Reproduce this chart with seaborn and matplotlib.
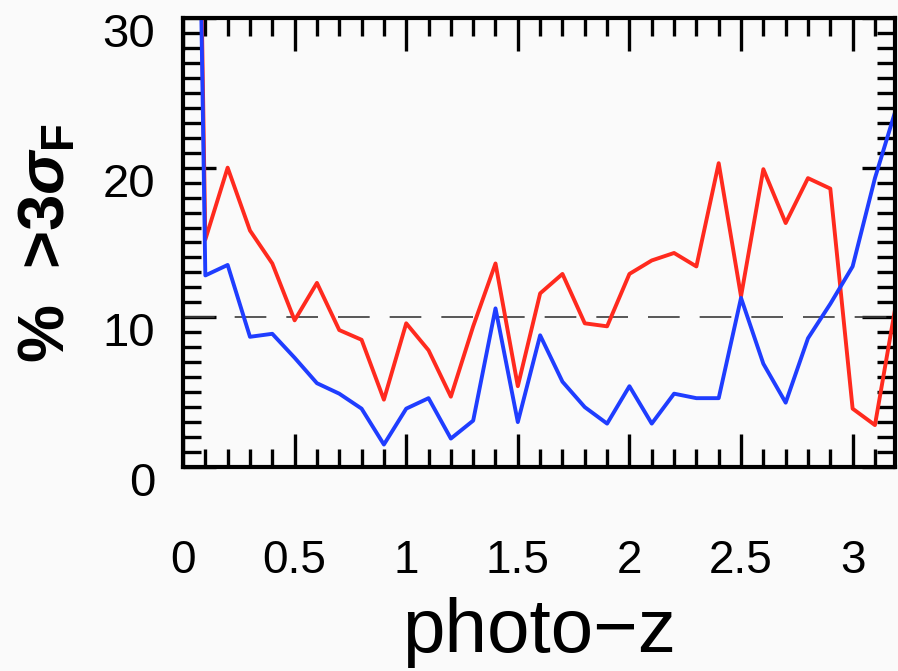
import numpy as np
import pandas as pd
import matplotlib
matplotlib.use("Agg")
import matplotlib.pyplot as plt
import matplotlib.transforms as mtransforms
import seaborn as sns
from matplotlib.ticker import MultipleLocator, FixedLocator

# photo-z bins and fraction of sources > 3 sigma_F (%)
photo_z = [0.0, 0.1, 0.2, 0.3, 0.4, 0.5, 0.6, 0.7, 0.8, 0.9, 1.0,
           1.1, 1.2, 1.3, 1.4, 1.5, 1.6, 1.7, 1.8, 1.9, 2.0,
           2.1, 2.2, 2.3, 2.4, 2.5, 2.6, 2.7, 2.8, 2.9, 3.0, 3.1, 3.2]
red_pct = [110, 15.2, 20.0, 15.8, 13.6, 9.8, 12.3, 9.15, 8.5, 4.5, 9.6,
           7.8, 4.7, 9.4, 13.6, 5.4, 11.6, 12.9, 9.6, 9.4, 12.9,
           13.8, 14.3, 13.4, 20.3, 11.4, 19.9, 16.3, 19.3, 18.6, 3.9, 2.8, 11.4]
blue_pct = [110, 12.8, 13.5, 8.7, 8.9, 7.3, 5.6, 4.9, 3.9, 1.5, 3.9,
            4.6, 1.9, 3.1, 10.6, 3.0, 8.8, 5.7, 4.0, 2.9, 5.4,
            2.9, 4.9, 4.6, 4.6, 11.3, 6.9, 4.3, 8.6, 10.9, 13.4, 19.3, 24.2]
xtick_vals = [0, 0.5, 1, 1.5, 2, 2.5, 3]
xtick_labels = ["0", "0.5", "1", "1.5", "2", "2.5", "3"]
ytick_vals = [0, 10, 20, 30]
ref_level = 10

df = pd.concat([
    pd.DataFrame({"z": photo_z, "pct": red_pct, "set": "red"}),
    pd.DataFrame({"z": photo_z, "pct": blue_pct, "set": "blue"}),
], ignore_index=True)

sns.set_style("ticks")
plt.rcParams["font.family"] = ["Liberation Sans", "DejaVu Sans"]
plt.rcParams["mathtext.fontset"] = "custom"
plt.rcParams["mathtext.rm"] = "Liberation Sans:bold"
plt.rcParams["mathtext.it"] = "Liberation Sans:italic:bold"
bg = "#fafafa"

fig = plt.figure(figsize=(8.98, 6.71), dpi=100, facecolor=bg)
ax = fig.add_axes([0.2038, 0.304, 0.7929, 0.6692])
ax.set_facecolor(bg)

sns.lineplot(data=df, x="z", y="pct", hue="set", palette={"red": "#ff2a1e", "blue": "#1f3dff"},
             estimator=None, sort=False, linewidth=2.8, legend=False, ax=ax)
ax.axhline(ref_level, color="#3a3a3a", lw=1.2, dashes=(19, 12), zorder=1)

ax.set_xlim(0, 3.19)
ax.set_ylim(0, 30)
ax.xaxis.set_major_locator(FixedLocator(xtick_vals))
ax.set_xticklabels(xtick_labels)
ax.xaxis.set_minor_locator(MultipleLocator(0.1))
ax.yaxis.set_major_locator(FixedLocator(ytick_vals))
ax.yaxis.set_minor_locator(MultipleLocator(1))

ax.tick_params(which="both", direction="in", top=True, right=True, width=2.4,
               color="black", labelcolor="black")
ax.tick_params(which="major", length=24)
ax.tick_params(which="minor", length=13)
ax.tick_params(axis="x", which="major", pad=52, labelsize=33)
ax.tick_params(axis="y", which="major", pad=20, labelsize=34)
for s in ax.spines.values():
    s.set_linewidth(3)
    s.set_color("black")

# y tick labels sit a little low in the original
shift = mtransforms.ScaledTranslation(0, -12 / 100, fig.dpi_scale_trans)
for lbl in ax.get_yticklabels():
    lbl.set_transform(lbl.get_transform() + shift)

ax.set_xlabel("photo\u2212z", fontsize=55, labelpad=10, color="black")
ax.set_ylabel("%  >3$\\mathit{\\sigma}_{\\rm F}$", fontsize=47, fontweight="bold",
              labelpad=18, color="black")

fig.savefig("out.png", dpi=100, facecolor=bg)
